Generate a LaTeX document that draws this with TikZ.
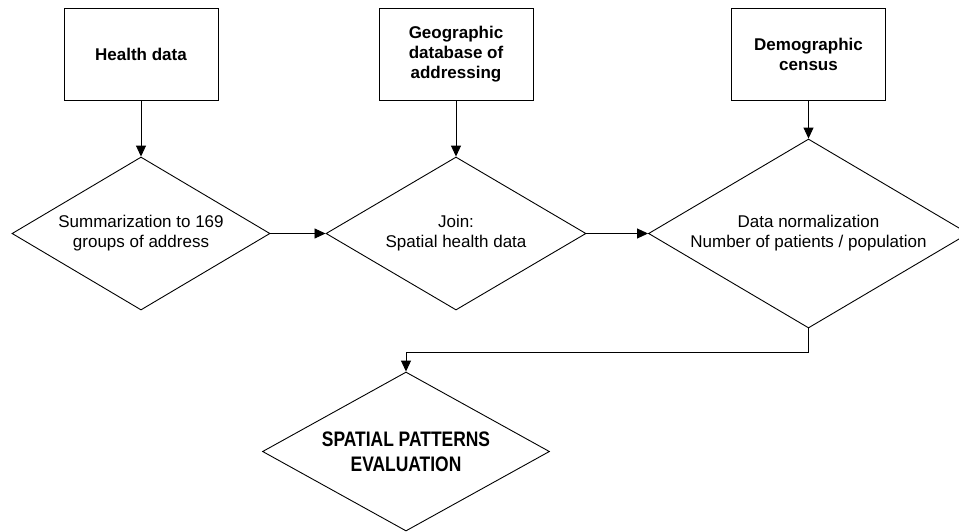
\documentclass[tikz,border=0pt]{standalone}
\usepackage{fontspec}
\setmainfont{Liberation Sans}
\newfontfamily\narrowfont{Liberation Sans}[FakeStretch=0.83]
\usetikzlibrary{shapes.geometric,arrows.meta}
\begin{document}
\begin{tikzpicture}[x=1pt,y=-1pt,
  srcbox/.style={draw,line width=0.9pt,rectangle,minimum width=154pt,minimum height=92pt,inner sep=0pt,align=center,font=\fontsize{17}{20}\selectfont\bfseries},
  stepdia/.style={draw,line width=0.9pt,diamond,inner sep=0pt,align=center,font=\fontsize{17}{20}\selectfont},
  conn/.style={line width=0.9pt,-{Triangle[length=11pt,width=10pt]}}]
\useasboundingbox (0,0) rectangle (959,531);
\fill[white] (0,0) rectangle (959,531);
\clip (0,0) rectangle (959,531);
\node[srcbox] (b1) at (141,54) {Health data};
\node[srcbox] (b2) at (456,54) {Geographic\\database of\\addressing};
\node[srcbox] (b3) at (808.5,54) {Demographic\\census};
\node[stepdia,minimum width=258pt,minimum height=153pt,shape aspect=1.69] (d1) at (141,233.5) {Summarization to 169\\groups of address};
\node[stepdia,minimum width=260pt,minimum height=153pt,shape aspect=1.69] (d2) at (456,233.5) {Join:\\Spatial health data};
\node[stepdia,minimum width=320pt,minimum height=189pt,shape aspect=1.69] (d3) at (808.5,233.5) {Data normalization\\Number of patients / population};
\node[stepdia,minimum width=287pt,minimum height=159pt,shape aspect=1.8,font=\narrowfont\fontsize{21}{25}\selectfont\bfseries] (d4) at (406,451.5) {SPATIAL PATTERNS\\EVALUATION};
\draw[conn] (b1) -- (d1);
\draw[conn] (b2) -- (d2);
\draw[conn] (b3) -- (d3);
\draw[conn] (d1) -- (d2);
\draw[conn] (d2) -- (d3);
\draw[conn] (d3.south) -- ++(0,24) -| (d4.north);
\end{tikzpicture}
\end{document}
